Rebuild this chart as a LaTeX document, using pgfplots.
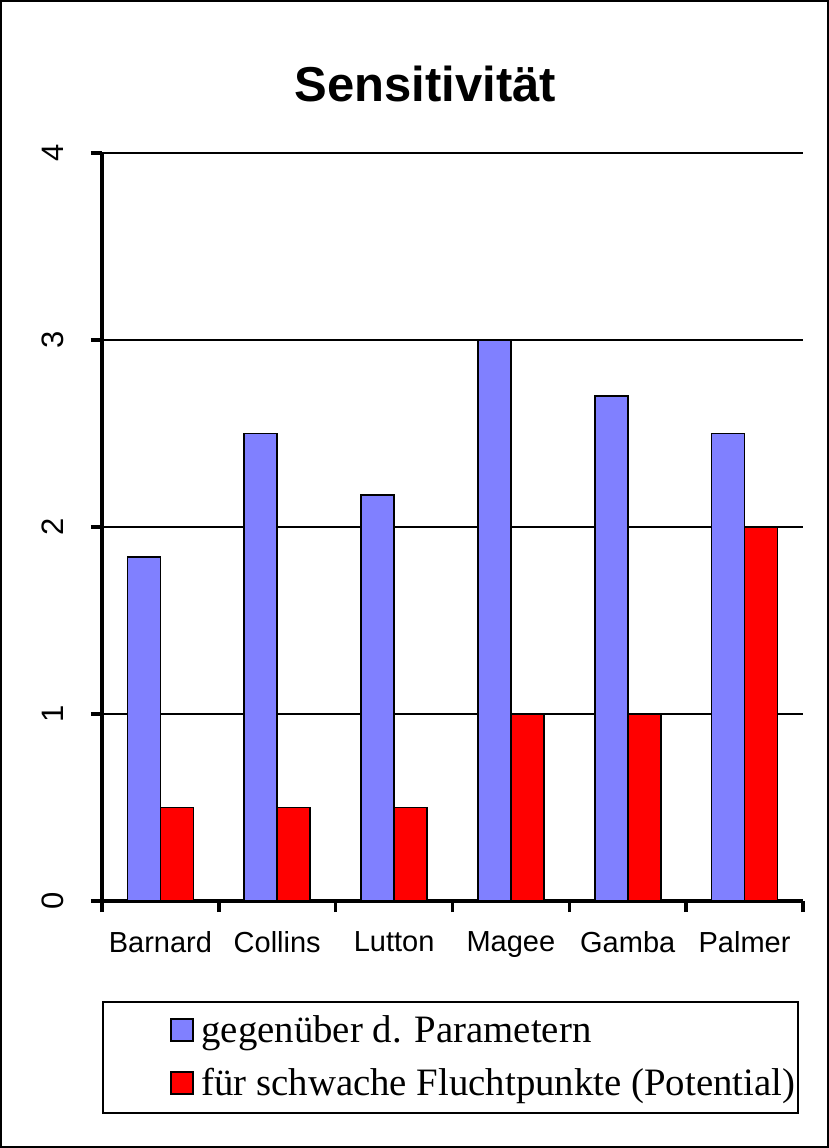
\documentclass[border=0pt]{standalone}
\usepackage{fontspec}
\setmainfont{Liberation Sans}
\newfontfamily\legfont{Liberation Serif}
\usepackage{pgfplots}
\pgfplotsset{compat=1.18}
\definecolor{barblue}{RGB}{128,128,255}
\definecolor{barred}{RGB}{255,0,0}
\begin{document}
\begin{tikzpicture}
\draw[line width=1pt] (-50.5pt,-123pt) rectangle (363pt,450pt);
\node[anchor=base, font=\bfseries\fontsize{24.5}{28}\selectfont] at (161.75pt,399.5pt) {Sensitivität};
\begin{axis}[
  at={(0,0)}, anchor=south west,
  scale only axis, width=350.5pt, height=374pt,
  xmin=-0.5, xmax=5.5, ymin=0, ymax=4,
  ybar=0pt, bar width=16.5pt,
  axis x line*=bottom, axis y line*=left,
  axis line style={line width=2pt},
  xtick={0,...,5},
  xticklabels={Barnard,Collins,Lutton,Magee,Gamba,Palmer},
  minor xtick={-0.5,0.5,...,5.5},
  ytick={0,1,2,3,4},
  yticklabels={0,1,2,3,4},
  major x tick style={draw=none},
  tick align=outside,
  major tick length=5.5pt, minor tick length=5.5pt,
  every tick/.style={line width=1.8pt, black},
  ymajorgrids, grid style={line width=1pt, black},
  /pgf/number format/assume math mode=true,
  xticklabel style={font=\fontsize{14.5}{17}\selectfont, yshift=-6pt},
  yticklabel style={font=\fontsize{15.5}{18}\selectfont, rotate=90, anchor=south, yshift=10pt},
  legend style={at={(0,0)}, anchor=north west, xshift=34pt, yshift=-56pt,
    draw=none, fill=none, inner sep=0pt, row sep=9.5pt,
    font=\legfont\fontsize{19.4}{23}\selectfont,
    nodes={inner xsep=3.5pt, inner ysep=1pt}},
  legend cell align=left,
  legend image code/.code={\draw[#1, line width=1pt] (0pt,-5.5pt) rectangle (11pt,5.5pt);},
  clip=false,
]
\addplot[fill=barblue, draw=black, line width=0.8pt] coordinates {(0,1.84) (1,2.5) (2,2.17) (3,3.0) (4,2.7) (5,2.5)};
\addplot[fill=barred, draw=black, line width=0.8pt] coordinates {(0,0.5) (1,0.5) (2,0.5) (3,1.0) (4,1.0) (5,2.0)};
\legend{gegenüber d. Parametern, für schwache Fluchtpunkte (Potential)}
\draw[line width=1pt] ([xshift=0.5pt,yshift=-50.5pt]rel axis cs:0,0) rectangle ([xshift=-2.5pt,yshift=-106pt]rel axis cs:1,0);
\end{axis}
\end{tikzpicture}
\end{document}
